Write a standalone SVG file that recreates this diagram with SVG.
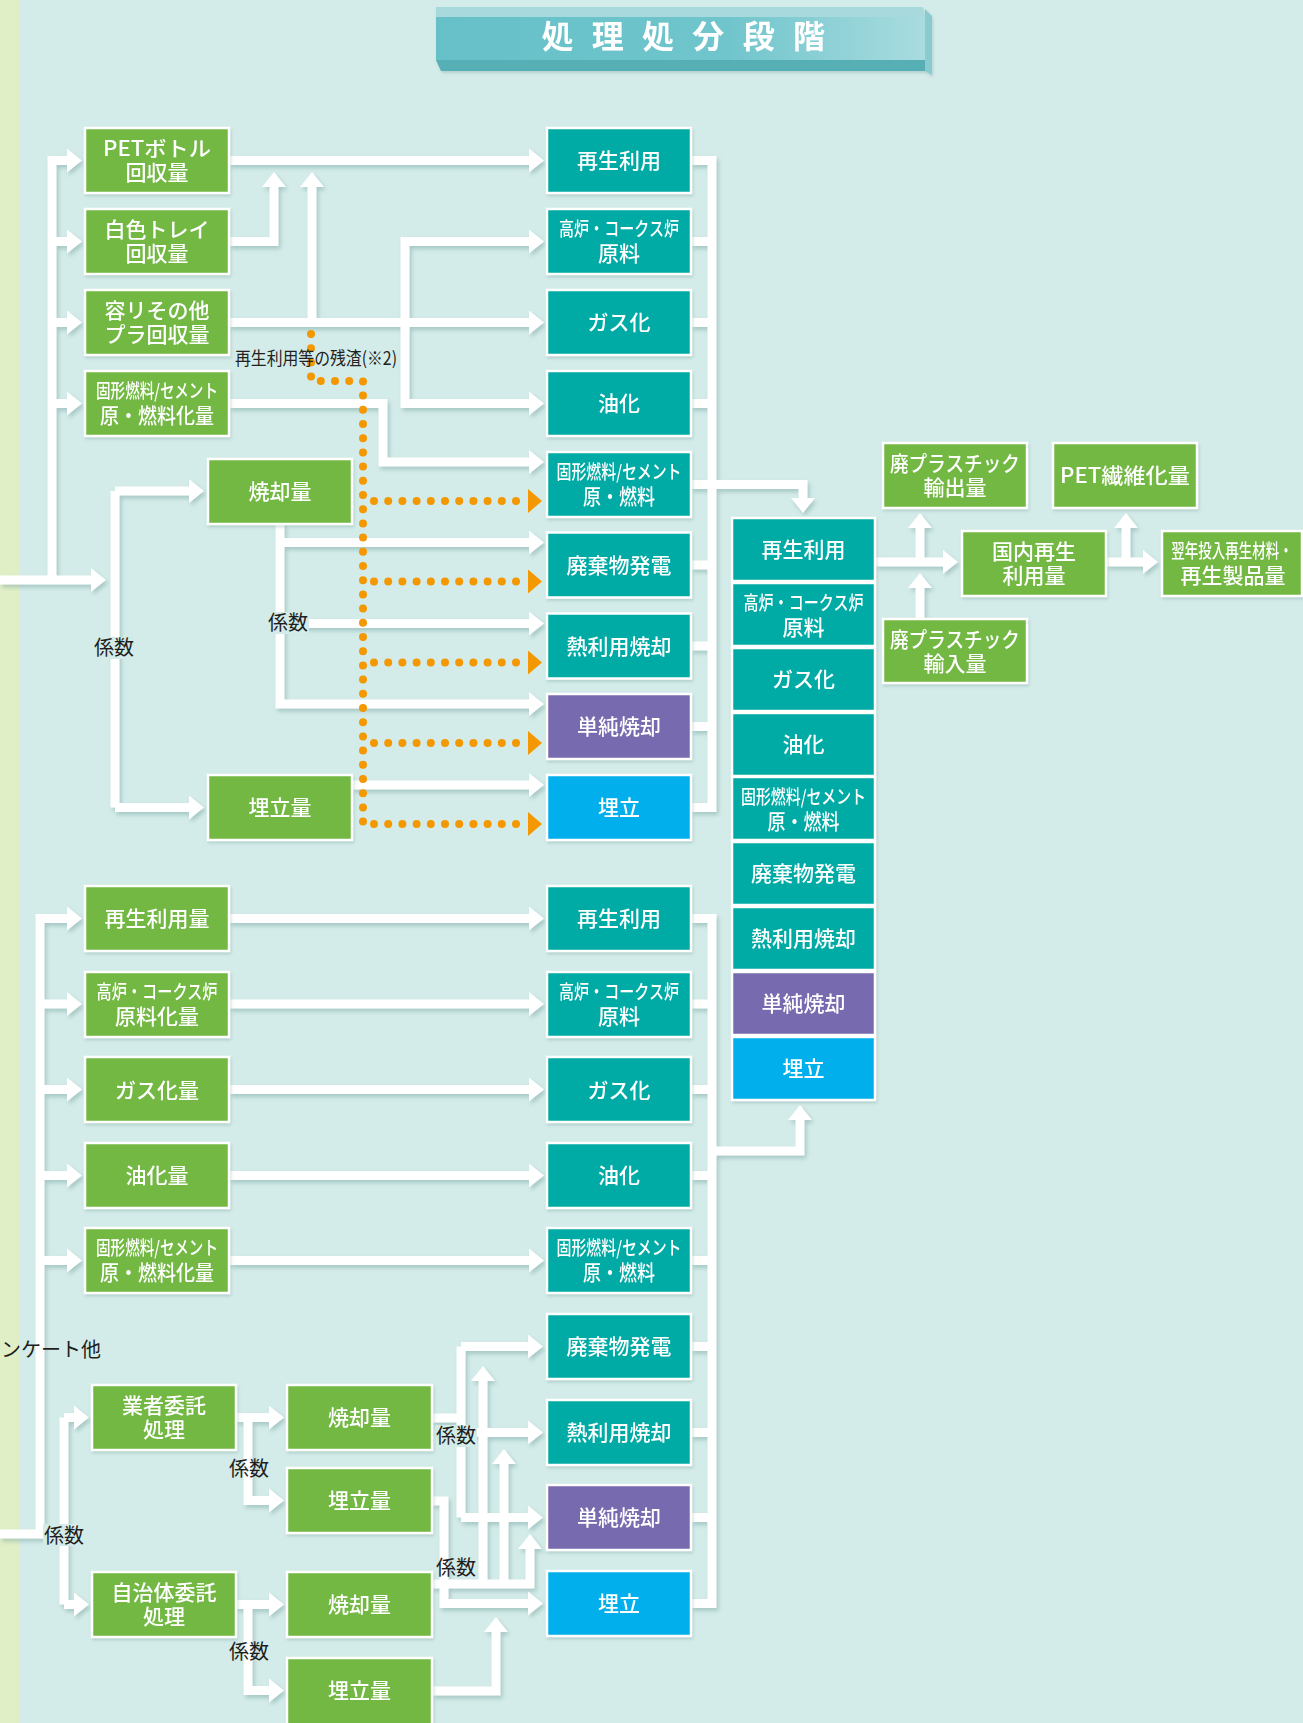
<svg xmlns="http://www.w3.org/2000/svg" width="1303" height="1723" viewBox="0 0 1303 1723">
<style>
.nd rect{stroke:#fff;stroke-width:2.5}
.g{fill:#72b843}.t{fill:#00aaa5}.p{fill:#786bae}.b{fill:#00afec}
.nd text{fill:#fff;font-family:'Noto Sans CJK JP','Noto Sans',sans-serif;font-size:21px;font-weight:500;text-anchor:middle}
.nd text.s{font-size:19px}
.cn path{fill:none;stroke:#fff;stroke-width:9;stroke-linejoin:miter}
.dt path{fill:none;stroke:#f39800;stroke-width:8;stroke-linecap:round;stroke-dasharray:0 14.2}
.k{fill:#1e1e1e;font-family:'Noto Sans CJK JP','Noto Sans',sans-serif;font-size:20px;text-anchor:middle}
.kb{fill:#d4ece9}
</style>
<defs>
<marker id="ah" viewBox="0 0 15 24" refX="0" refY="12" markerWidth="15" markerHeight="24" markerUnits="userSpaceOnUse" orient="auto"><path d="M0,0 L15,12 L0,24 z" fill="#fff"/></marker>
<marker id="oh" viewBox="0 0 14 24" refX="0" refY="12" markerWidth="14" markerHeight="24" markerUnits="userSpaceOnUse" orient="auto"><path d="M0,0 L14,12 L0,24 z" fill="#f39800"/></marker>
<filter id="sh" x="-2%" y="-2%" width="104%" height="104%"><feDropShadow dx="2" dy="3" stdDeviation="2" flood-color="#6f9e9b" flood-opacity="0.45"/></filter>
<filter id="bs" x="-10%" y="-10%" width="120%" height="130%"><feDropShadow dx="1" dy="2" stdDeviation="1.5" flood-color="#6f9e9b" flood-opacity="0.35"/></filter>
<linearGradient id="tg" x1="0" y1="0" x2="1" y2="0"><stop offset="0" stop-color="#66c0c8"/><stop offset="0.6" stop-color="#70c5cc"/><stop offset="1" stop-color="#a9dcdf"/></linearGradient>
</defs>
<rect width="1303" height="1723" fill="#d4ece9"/>
<rect width="20" height="1723" fill="#e1efc6"/>

<g id="title" filter="url(#bs)">
<polygon points="436,17 436,7 923,7 925,17" fill="#a7d9dd"/>
<rect x="436" y="17" width="489" height="43" fill="url(#tg)"/>
<polygon points="436,60 925,60 925,71 441,71" fill="#55afb5"/>
<polygon points="925,9 932,16 932,75 925,71" fill="#8acbd0"/>
<text x="686" y="47.5" fill="#fff" font-family="'Noto Sans CJK JP','Noto Sans',sans-serif" font-size="32" font-weight="700" text-anchor="middle" letter-spacing="5.5">処 理 処 分 段 階</text>
</g>

<g id="connectors" class="cn" filter="url(#sh)">
<path d="M0,580 H91" marker-end="url(#ah)"/>
<path d="M52,580 V160.5 H67" marker-end="url(#ah)"/>
<path d="M52,241.5 H67" marker-end="url(#ah)"/>
<path d="M52,322.5 H67" marker-end="url(#ah)"/>
<path d="M52,403.5 H67" marker-end="url(#ah)"/>
<path d="M229,160.5 H529" marker-end="url(#ah)"/>
<path d="M229,241.5 H274 V187" marker-end="url(#ah)"/>
<path d="M229,322.5 H529" marker-end="url(#ah)"/>
<path d="M312,322.5 V187" marker-end="url(#ah)"/>
<path d="M405,322.5 V241.5 H529" marker-end="url(#ah)"/>
<path d="M405,322.5 V403.5 H529" marker-end="url(#ah)"/>
<path d="M229,403.5 H383 V462 H529" marker-end="url(#ah)"/>
<path d="M115,491 V807.5"/>
<path d="M115,491 H189" marker-end="url(#ah)"/>
<path d="M115,807.5 H189" marker-end="url(#ah)"/>
<path d="M280,523 V704 H529" marker-end="url(#ah)"/>
<path d="M280,542.5 H529" marker-end="url(#ah)"/>
<path d="M280,623.5 H529" marker-end="url(#ah)"/>
<path d="M352,785 H529" marker-end="url(#ah)"/>
<path d="M691,160.5 H712 V807.5 H691"/>
<path d="M691,241.5 H712 M691,322.5 H712 M691,403.5 H712 M691,484.5 H712 M691,565 H712 M691,646 H712 M691,726.5 H712"/>
<path d="M712,484.5 H803 V498" marker-end="url(#ah)"/>
<path d="M875,562 H943" marker-end="url(#ah)"/>
<path d="M920,562 V528" marker-end="url(#ah)"/>
<path d="M920,619 V588" marker-end="url(#ah)"/>
<path d="M1106,562 H1143" marker-end="url(#ah)"/>
<path d="M1126,562 V528" marker-end="url(#ah)"/>
<path d="M0,1534 H40 V918.5 H67" marker-end="url(#ah)"/>
<path d="M40,1004 H67" marker-end="url(#ah)"/>
<path d="M40,1089.5 H67" marker-end="url(#ah)"/>
<path d="M40,1175.5 H67" marker-end="url(#ah)"/>
<path d="M40,1260.5 H67" marker-end="url(#ah)"/>
<path d="M40,1534 H64"/>
<path d="M64,1417.5 V1604.5"/>
<path d="M64,1417.5 H74" marker-end="url(#ah)"/>
<path d="M64,1604.5 H74" marker-end="url(#ah)"/>
<path d="M229,918.5 H529" marker-end="url(#ah)"/>
<path d="M229,1004 H529" marker-end="url(#ah)"/>
<path d="M229,1089.5 H529" marker-end="url(#ah)"/>
<path d="M229,1175.5 H529" marker-end="url(#ah)"/>
<path d="M229,1260.5 H529" marker-end="url(#ah)"/>
<path d="M236,1417.5 H269" marker-end="url(#ah)"/>
<path d="M248,1417.5 V1500.5 H269" marker-end="url(#ah)"/>
<path d="M236,1604.5 H269" marker-end="url(#ah)"/>
<path d="M248,1604.5 V1690.5 H269" marker-end="url(#ah)"/>
<path d="M432,1418 H461"/>
<path d="M461,1346.5 V1517.5"/>
<path d="M461,1346.5 H528" marker-end="url(#ah)"/>
<path d="M461,1432.5 H528" marker-end="url(#ah)"/>
<path d="M461,1517.5 H528" marker-end="url(#ah)"/>
<path d="M432,1501 H444 V1603.5 H528" marker-end="url(#ah)"/>
<path d="M432,1584 H530 V1549" marker-end="url(#ah)"/>
<path d="M483,1584 V1381" marker-end="url(#ah)"/>
<path d="M504,1584 V1464" marker-end="url(#ah)"/>
<path d="M432,1691 H496 V1632" marker-end="url(#ah)"/>
<path d="M691,918.5 H712 V1603.5 H691"/>
<path d="M691,1004 H712 M691,1089.5 H712 M691,1175.5 H712 M691,1260.5 H712 M691,1346.5 H712 M691,1432.5 H712 M691,1517.5 H712"/>
<path d="M712,1151 H800 V1120" marker-end="url(#ah)"/>
</g>

<g id="residue-flow" class="dt">
<path d="M311,334 V381 H363 V824"/>
<path d="M374,501 H528" marker-end="url(#oh)"/>
<path d="M374,581.5 H528" marker-end="url(#oh)"/>
<path d="M374,662.5 H528" marker-end="url(#oh)"/>
<path d="M374,743 H528" marker-end="url(#oh)"/>
<path d="M374,824 H528" marker-end="url(#oh)"/>
</g>

<g id="labels">
<text x="235" y="365" fill="#222" font-family="'Noto Sans CJK JP','Noto Sans',sans-serif" font-size="18" textLength="162" lengthAdjust="spacingAndGlyphs">再生利用等の残渣(※2)</text>
<rect class="kb" x="93" y="637" width="42" height="22"/><text class="k" x="114" y="655">係数</text>
<rect class="kb" x="267" y="612" width="42" height="22"/><text class="k" x="288" y="630">係数</text>
<rect class="kb" x="435" y="1425" width="42" height="22"/><text class="k" x="456" y="1443">係数</text>
<text class="k" x="456" y="1575">係数</text>
<text class="k" x="249" y="1476">係数</text>
<text class="k" x="249" y="1659">係数</text>
<rect class="kb" x="43" y="1524" width="42" height="22"/><text class="k" x="64" y="1543">係数</text>
<text class="k" x="101" y="1357" style="text-anchor:end">ンケート他</text>
</g>

<g class="nd" filter="url(#bs)">
<g id="n-pet"><rect class="g" x="85" y="128" width="144" height="65"/><text x="157" y="155.5" textLength="108" lengthAdjust="spacingAndGlyphs">PETボトル</text><text x="157" y="180">回収量</text></g>
<g id="n-tray"><rect class="g" x="85" y="209" width="144" height="65"/><text x="157" y="236.5">白色トレイ</text><text x="157" y="261">回収量</text></g>
<g id="n-yori"><rect class="g" x="85" y="290" width="144" height="65"/><text x="157" y="317.5">容リその他</text><text x="157" y="342">プラ回収量</text></g>
<g id="n-rpf"><rect class="g" x="85" y="371" width="144" height="65"/><text class="s" x="157" y="398" textLength="122" lengthAdjust="spacingAndGlyphs">固形燃料/セメント</text><text x="157" y="423" textLength="114" lengthAdjust="spacingAndGlyphs">原・燃料化量</text></g>
<g id="n-inc1"><rect class="g" x="208" y="459" width="144" height="65"/><text x="280" y="499">焼却量</text></g>
<g id="n-lf1"><rect class="g" x="208" y="775" width="144" height="65"/><text x="280" y="815">埋立量</text></g>

<g id="t1-0"><rect class="t" x="547" y="128" width="144" height="65"/><text x="619" y="168">再生利用</text></g>
<g id="t1-1"><rect class="t" x="547" y="209" width="144" height="65"/><text class="s" x="619" y="236" textLength="120" lengthAdjust="spacingAndGlyphs">高炉・コークス炉</text><text x="619" y="261">原料</text></g>
<g id="t1-2"><rect class="t" x="547" y="290" width="144" height="65"/><text x="619" y="330">ガス化</text></g>
<g id="t1-3"><rect class="t" x="547" y="371" width="144" height="65"/><text x="619" y="411">油化</text></g>
<g id="t1-4"><rect class="t" x="547" y="452" width="144" height="65"/><text class="s" x="619" y="479" textLength="125" lengthAdjust="spacingAndGlyphs">固形燃料/セメント</text><text x="619" y="504" textLength="72" lengthAdjust="spacingAndGlyphs">原・燃料</text></g>
<g id="t1-5"><rect class="t" x="547" y="532.5" width="144" height="65"/><text x="619" y="572.5">廃棄物発電</text></g>
<g id="t1-6"><rect class="t" x="547" y="613.5" width="144" height="65"/><text x="619" y="653.5">熱利用焼却</text></g>
<g id="t1-7"><rect class="p" x="547" y="694" width="144" height="65"/><text x="619" y="734">単純焼却</text></g>
<g id="t1-8"><rect class="b" x="547" y="775" width="144" height="65"/><text x="619" y="815">埋立</text></g>

<g id="r-0"><rect class="t" x="732" y="518" width="143" height="63"/><text x="803.5" y="557">再生利用</text></g>
<g id="r-1"><rect class="t" x="732" y="583" width="143" height="63"/><text class="s" x="803.5" y="610" textLength="120" lengthAdjust="spacingAndGlyphs">高炉・コークス炉</text><text x="803.5" y="634.5">原料</text></g>
<g id="r-2"><rect class="t" x="732" y="648" width="143" height="63"/><text x="803.5" y="687">ガス化</text></g>
<g id="r-3"><rect class="t" x="732" y="713" width="143" height="63"/><text x="803.5" y="752">油化</text></g>
<g id="r-4"><rect class="t" x="732" y="777" width="143" height="63"/><text class="s" x="803.5" y="804" textLength="125" lengthAdjust="spacingAndGlyphs">固形燃料/セメント</text><text x="803.5" y="828.5" textLength="72" lengthAdjust="spacingAndGlyphs">原・燃料</text></g>
<g id="r-5"><rect class="t" x="732" y="842" width="143" height="63"/><text x="803.5" y="881">廃棄物発電</text></g>
<g id="r-6"><rect class="t" x="732" y="907" width="143" height="63"/><text x="803.5" y="946">熱利用焼却</text></g>
<g id="r-7"><rect class="p" x="732" y="972" width="143" height="63"/><text x="803.5" y="1011">単純焼却</text></g>
<g id="r-8"><rect class="b" x="732" y="1037" width="143" height="63"/><text x="803.5" y="1076">埋立</text></g>

<g id="n-export"><rect class="g" x="883" y="443" width="144" height="65"/><text x="955" y="470.5" textLength="130" lengthAdjust="spacingAndGlyphs">廃プラスチック</text><text x="955" y="495">輸出量</text></g>
<g id="n-import"><rect class="g" x="883" y="619" width="144" height="64"/><text x="955" y="646.5" textLength="130" lengthAdjust="spacingAndGlyphs">廃プラスチック</text><text x="955" y="671">輸入量</text></g>
<g id="n-domestic"><rect class="g" x="962" y="531" width="144" height="65"/><text x="1034" y="558.5">国内再生</text><text x="1034" y="583">利用量</text></g>
<g id="n-fiber"><rect class="g" x="1053" y="443" width="144" height="65"/><text x="1125" y="483" textLength="130" lengthAdjust="spacingAndGlyphs">PET繊維化量</text></g>
<g id="n-nextyear"><rect class="g" x="1162" y="531" width="140" height="65"/><text class="s" transform="translate(1232,558) scale(0.71,1)" x="0" y="0">翌年投入再生材料・</text><text x="1233" y="583">再生製品量</text></g>

<g id="l-0"><rect class="g" x="85" y="886" width="144" height="65"/><text x="157" y="926">再生利用量</text></g>
<g id="l-1"><rect class="g" x="85" y="972" width="144" height="65"/><text class="s" x="157" y="999" textLength="121" lengthAdjust="spacingAndGlyphs">高炉・コークス炉</text><text x="157" y="1024">原料化量</text></g>
<g id="l-2"><rect class="g" x="85" y="1057" width="144" height="65"/><text x="157" y="1097.5">ガス化量</text></g>
<g id="l-3"><rect class="g" x="85" y="1143" width="144" height="65"/><text x="157" y="1183">油化量</text></g>
<g id="l-4"><rect class="g" x="85" y="1228" width="144" height="65"/><text class="s" x="157" y="1255" textLength="122" lengthAdjust="spacingAndGlyphs">固形燃料/セメント</text><text x="157" y="1280" textLength="114" lengthAdjust="spacingAndGlyphs">原・燃料化量</text></g>

<g id="t2-0"><rect class="t" x="547" y="886" width="144" height="65"/><text x="619" y="926">再生利用</text></g>
<g id="t2-1"><rect class="t" x="547" y="972" width="144" height="65"/><text class="s" x="619" y="999" textLength="120" lengthAdjust="spacingAndGlyphs">高炉・コークス炉</text><text x="619" y="1024">原料</text></g>
<g id="t2-2"><rect class="t" x="547" y="1057" width="144" height="65"/><text x="619" y="1097.5">ガス化</text></g>
<g id="t2-3"><rect class="t" x="547" y="1143" width="144" height="65"/><text x="619" y="1183">油化</text></g>
<g id="t2-4"><rect class="t" x="547" y="1228" width="144" height="65"/><text class="s" x="619" y="1255" textLength="125" lengthAdjust="spacingAndGlyphs">固形燃料/セメント</text><text x="619" y="1280" textLength="72" lengthAdjust="spacingAndGlyphs">原・燃料</text></g>
<g id="t2-5"><rect class="t" x="547" y="1314" width="144" height="65"/><text x="619" y="1354">廃棄物発電</text></g>
<g id="t2-6"><rect class="t" x="547" y="1400" width="144" height="65"/><text x="619" y="1440">熱利用焼却</text></g>
<g id="t2-7"><rect class="p" x="547" y="1485" width="144" height="65"/><text x="619" y="1525">単純焼却</text></g>
<g id="t2-8"><rect class="b" x="547" y="1571" width="144" height="65"/><text x="619" y="1611">埋立</text></g>

<g id="n-contractor"><rect class="g" x="92" y="1385" width="144" height="65"/><text x="164" y="1412.5">業者委託</text><text x="164" y="1437">処理</text></g>
<g id="n-municipal"><rect class="g" x="92" y="1572" width="144" height="65"/><text x="164" y="1599.5">自治体委託</text><text x="164" y="1624">処理</text></g>
<g id="n-inc2"><rect class="g" x="287" y="1385" width="145" height="65"/><text x="359.5" y="1425">焼却量</text></g>
<g id="n-lf2"><rect class="g" x="287" y="1468" width="145" height="65"/><text x="359.5" y="1508">埋立量</text></g>
<g id="n-inc3"><rect class="g" x="287" y="1572" width="145" height="65"/><text x="359.5" y="1612">焼却量</text></g>
<g id="n-lf3"><rect class="g" x="287" y="1658" width="145" height="68"/><text x="359.5" y="1698">埋立量</text></g>
</g>
</svg>
